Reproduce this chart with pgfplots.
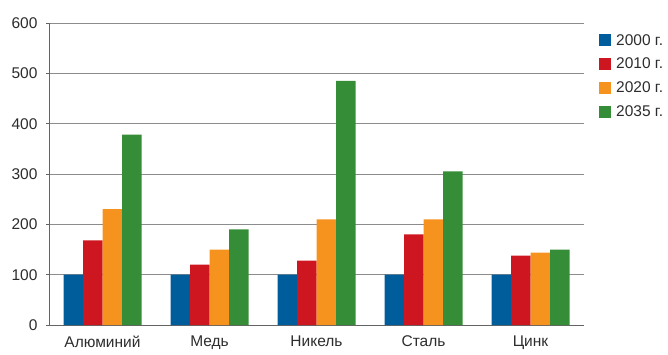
\documentclass[border=0pt]{standalone}
\usepackage{fontspec}
\setmainfont{Liberation Sans}
\usepackage{pgfplots}
\pgfplotsset{compat=1.18}

\definecolor{c2000}{RGB}{0,93,156}
\definecolor{c2010}{RGB}{206,22,32}
\definecolor{c2020}{RGB}{246,146,30}
\definecolor{c2035}{RGB}{54,141,56}
\definecolor{axisgray}{RGB}{100,100,100}
\definecolor{gridgray}{RGB}{140,140,140}
\definecolor{labelgray}{RGB}{45,45,45}

\pgfplotstableread{
x y2000 y2010 y2020 y2035
0 100 168 230 378
1 100 120 150 190
2 100 128 210 485
3 100 180 210 305
4 100 138 144 150
}\metals

\begin{document}
\begin{tikzpicture}[x=1pt,y=1pt]
\path[use as bounding box] (0,0) rectangle (668,354);
\begin{axis}[
  at={(49pt,29pt)}, anchor=south west,
  scale only axis, width=535pt, height=302pt,
  xmin=-0.5, xmax=4.5, ymin=0, ymax=600,
  ybar=0pt, bar width=19.5pt,
  axis x line*=bottom, axis y line*=left,
  axis line style={axisgray, line width=1pt, -},
  xtick={0,1,2,3,4},
  xticklabels={Алюминий, Медь, Никель, Сталь, Цинк},
  x tick style={draw=none},
  extra x ticks={-0.5,0.5,1.5,2.5,3.5,4.5},
  extra x tick labels={},
  extra x tick style={major tick length=4pt, tick align=outside,
    tick style={axisgray, line width=1pt}, grid=none},
  ytick={0,100,...,600},
  ymajorgrids,
  grid style={gridgray, line width=1pt},
  y tick style={axisgray, line width=1pt},
  major tick length=3pt, tick align=outside,
  tick label style={font=\fontsize{15.5}{18}\selectfont, text=labelgray},
  /pgf/number format/assume math mode=true,
  yticklabel style={anchor=east, xshift=-5pt},
  xticklabel style={anchor=north, yshift=-4pt},
  legend style={at={(1,1)}, anchor=north west, xshift=15pt, yshift=-9pt,
    draw=none, fill=none, inner sep=0pt, row sep=7.5pt,
    font=\fontsize{15.5}{18}\selectfont, text=labelgray},
  legend image code/.code={\fill[#1] (0pt,-6pt) rectangle (12pt,6pt);
    \path (15pt,0pt);},
  legend cell align=left,
]
\addplot[fill=c2000, draw=none] table[x=x, y=y2000] {\metals};
\addplot[fill=c2010, draw=none] table[x=x, y=y2010] {\metals};
\addplot[fill=c2020, draw=none] table[x=x, y=y2020] {\metals};
\addplot[fill=c2035, draw=none] table[x=x, y=y2035] {\metals};
\legend{2000 г., 2010 г., 2020 г., 2035 г.}
\end{axis}
\end{tikzpicture}
\end{document}
